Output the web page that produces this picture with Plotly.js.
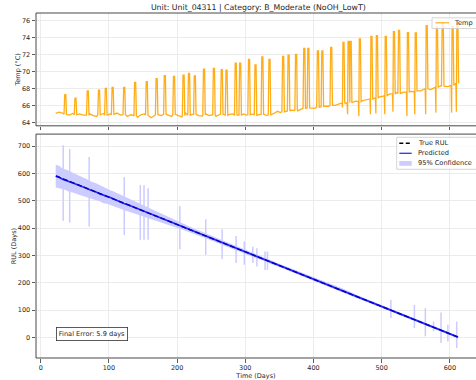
<!DOCTYPE html>
<html><head><meta charset="utf-8">
<script src="https://cdn.plot.ly/plotly-3.0.1.min.js"></script>
<style>html,body{margin:0;padding:0;background:#fff}#chart{width:476px;height:380px}</style>
</head><body><div id="chart"></div>
<script>
// ---------- data ----------
const chartTitle = "Unit: Unit_04311 | Category: B_Moderate (NoOH_LowT)";
const finalErrorText = "Final Error: 5.9 days";

// Temperature baseline, sampled every 5 days starting day 22
const tempStartDay = 22, tempStepDays = 5;
const tempBase = [65.1,65.25,65.15,64.95,64.9,65.1,64.85,65.05,64.9,64.8,
65.05,64.85,64.75,65.0,65.1,64.8,65.05,64.85,65.15,64.9,
65.0,64.75,64.95,64.7,64.65,64.95,65.05,64.8,64.6,64.85,
65.0,64.85,65.1,64.9,64.75,65.05,64.85,64.7,65.2,64.85,
65.0,65.1,64.85,64.8,65.05,64.85,65.0,64.75,64.95,65.1,
64.85,65.0,65.05,64.85,64.8,65.05,64.9,64.85,65.05,64.85,
65.0,65.05,64.85,65.0,65.1,65.35,65.2,65.4,65.35,65.5,
65.45,65.4,65.6,65.7,65.8,65.75,65.7,65.9,65.85,65.95,
65.95,66.1,66.05,66.25,66.35,66.25,66.45,66.4,66.55,66.4,
66.6,66.7,66.8,66.75,67.0,67.05,67.15,67.2,67.4,67.35,
67.55,67.45,67.6,67.55,67.7,67.65,67.8,67.75,67.95,68.0,
67.9,68.15,68.2,68.35,68.3,68.25,68.45,68.55,68.7];

// Temperature spikes: day, peak, local baseline, low dip next to the spike (null = none)
const spikeDay  = [36,51,69,85.5,95.5,105.5,122.5,138.5,155.5,170,182,195.5,209.5,217.5,226,239.5,254,265.5,272.5,286,292.5,305.5,315,325,335.5,355.5,363.5,374.5,386.5,392.5,406.5,413,426,444,451.5,454.5,468,485,493,506,518,525.5,538.5,550,566,581,589.5,604,611];
const spikePeak = [67.3,66.9,67.75,67.85,68.05,68.15,68.15,68.75,68.85,69.2,69.55,69.45,69.6,69.8,69.5,70.3,70.4,70.25,70.2,71.0,71.0,71.45,70.8,71.75,71.45,71.8,71.95,72.05,72.75,72.75,72.45,72.45,72.85,73.45,73.55,73.55,73.85,74.15,74.25,74.15,74.7,74.85,74.6,74.55,75.4,75.3,75.7,75.3,75.7];
const spikeFoot = [65.0,64.95,64.9,64.95,64.9,65.0,64.95,64.85,64.9,64.95,65.0,65.0,64.85,64.9,65.0,64.95,64.95,65.0,64.9,64.9,64.9,64.95,64.9,65.0,64.95,65.3,65.4,65.5,65.7,65.75,65.85,65.9,66.05,66.35,66.4,66.4,66.5,66.8,66.95,67.2,67.4,67.45,67.6,67.75,68.0,68.2,68.3,68.4,68.65];
const spikeDip  = [null,null,null,null,null,null,null,null,null,null,null,null,null,null,null,null,null,null,null,null,null,null,null,null,null,null,null,null,null,null,null,null,null,65.8,65.0,null,64.8,65.0,65.1,65.0,65.3,null,64.8,65.0,65.0,65.2,null,65.2,65.3];

// RUL panel
const trueDay = [22.5, 613];
const trueRul = [590.5, 0];
const rulStartDay = 22, rulStepDays = 5;
const predicted = [590,586,579,575,571,565,560,556,551,546,
540,536,531,525,521,516,512,506,500,496,
490,486,481,476,472,466,460,456,451,446,
442,436,431,426,421,415,411,406,401,396,
391,386,381,376,371,366,361,356,351,346,
341,336,331,326,321,316,311,306,301,296,
291,286,281,276,271,266,261,256,251,246,
241,236,231,226,221,216,211,206,201,196,
191,186,181,176,171,166,161,156,151,146,
141,136,131,126,121,116,111,106,101,96,
91,86,81,76,71,66,61,56,51,46,
41,36,31,26,21,16,11,6,1];
const ciHigh = [632,628,618,614,610,602,597,592,586,580,
572,568,563,557,550,544,538,534,528,522,
516,511,505,499,494,488,482,476,470,464,
459,453,447,442,436,430,424,418,413,407,
402,396,391,386,381,375,369,364,359,354,
349,343,338,333,328,323,318,313,308,303,
298,293,288,283,278,272,267,262,257,252,
249,244,239,234,228,222,217,212,207,202,
197,192,188,184,180,175,169,163,157,151,
146,141,136,131,126,121,116,111,106,100,
95,90,85,80,75,70,65,60,55,50,
45,40,35,30,25,20,15,10,5];
const ciLow = [548,546,543,538,532,530,524,521,517,513,
510,504,500,497,491,489,484,479,475,471,
467,462,458,454,449,445,441,437,433,429,
424,420,416,411,407,403,399,395,390,386,
381,377,372,367,362,358,353,348,344,338,
334,329,324,319,314,309,304,299,294,289,
285,279,274,269,264,260,255,250,245,240,
234,228,223,219,214,210,205,200,195,190,
185,180,174,168,163,158,153,149,145,141,
136,131,126,121,116,111,106,101,96,92,
87,82,77,72,67,62,57,52,47,42,
37,32,27,22,17,12,7,2,-3];
// isolated single-day widenings of the confidence band
const ciSpikeDay  = [33,42.5,71,122.5,146,151.5,157.5,204,242,266,286.5,298.5,311,317,329,332.5,513.5,548,564,576,587,597,610];
const ciSpikeHigh = [703,689,660,587,557,557,546,481,432,396,371,351,332,326,314,314,138,119,107,58,91,46,58];
const ciSpikeLow  = [427,420,406,375,357,357,357,323,302,286,272,266,272,259,247,247,71,34,4,22,-20,-15,-39];

const xTicks = [0,100,200,300,400,500,600];
const tempTicks = [64,66,68,70,72,74,76];
const rulTicks = [0,100,200,300,400,500,600,700];

// ---------- build traces ----------
const baseDays = tempBase.map((_, i) => tempStartDay + i * tempStepDays);
let pts = [];
baseDays.forEach((d, i) => {
  const inSpike = spikeDay.some(s => d >= s - 2.3 && d <= s + 2.0);
  if (!inSpike) pts.push([d, tempBase[i]]);
});
spikeDay.forEach((s, k) => {
  if (spikeDip[k] !== null) {
    pts.push([s - 2.2, spikeFoot[k]], [s - 1.5, spikeDip[k]], [s - 0.8, spikePeak[k]], [s + 0.8, spikePeak[k]], [s + 1.8, spikeFoot[k]]);
  } else {
    pts.push([s - 1.8, spikeFoot[k]], [s - 0.8, spikePeak[k]], [s + 0.8, spikePeak[k]], [s + 1.8, spikeFoot[k]]);
  }
});
pts.sort((a, b) => a[0] - b[0]);
const tempX = pts.map(p => p[0]), tempY = pts.map(p => p[1]);

const rulDays = predicted.map((_, i) => rulStartDay + i * rulStepDays);
const spX = [], spY = [];
ciSpikeDay.forEach((d, k) => { spX.push(d, d, null); spY.push(ciSpikeLow[k], ciSpikeHigh[k], null); });

const bandColor = 'rgb(204,204,255)';
const orange = 'rgba(255,165,0,0.9)';
const traces = [
  {x: tempX, y: tempY, xaxis: 'x', yaxis: 'y', type: 'scatter', mode: 'lines', name: 'Temp',
   line: {color: orange, width: 1.3}, showlegend: false},
  {x: rulDays, y: ciLow, xaxis: 'x2', yaxis: 'y2', type: 'scatter', mode: 'lines', line: {width: 0}, showlegend: false, hoverinfo: 'skip'},
  {x: rulDays, y: ciHigh, xaxis: 'x2', yaxis: 'y2', type: 'scatter', mode: 'lines', line: {width: 0}, fill: 'tonexty', fillcolor: bandColor, name: '95% Confidence', showlegend: false},
  {x: spX, y: spY, xaxis: 'x2', yaxis: 'y2', type: 'scatter', mode: 'lines', line: {color: bandColor, width: 1.5}, showlegend: false, hoverinfo: 'skip'},
  {x: trueDay, y: trueRul, xaxis: 'x2', yaxis: 'y2', type: 'scatter', mode: 'lines', name: 'True RUL', line: {color: '#000', width: 1.4, dash: '5px,2.5px'}, showlegend: false},
  {x: rulDays, y: predicted, xaxis: 'x2', yaxis: 'y2', type: 'scatter', mode: 'lines', name: 'Predicted', line: {color: 'rgba(0,0,255,0.82)', width: 1.7}, showlegend: false}
];

// ---------- layout ----------
const ML = 36, MR = 0, MT = 13, MB = 22, W = 476, H = 380;
const PW = W - ML - MR, PH = H - MT - MB;
const px = v => (v - ML) / PW;           // pixel -> paper x
const py = v => (H - MB - v) / PH;       // pixel -> paper y
const font = {family: 'DejaVu Sans, sans-serif', size: 6.5, color: '#262626'};
const gridC = '#e7e7e7';
const axCommon = {showgrid: true, gridcolor: gridC, gridwidth: 0.8, zeroline: false, showline: false,
  ticks: 'outside', ticklen: 3.5, tickwidth: 0.8, tickcolor: '#333', tickfont: font, tickmode: 'array'};

const shapes = [
  {type: 'rect', xref: 'paper', yref: 'paper', x0: 0, x1: px(481), y0: 0.673, y1: 1, line: {color: '#333', width: 0.9}},
  {type: 'rect', xref: 'paper', yref: 'paper', x0: 0, x1: px(481), y0: 0, y1: 0.649, line: {color: '#333', width: 0.9}},
  {type: 'rect', xref: 'paper', yref: 'paper', x0: px(432), x1: px(482), y0: py(28.5), y1: py(17.8), fillcolor: 'rgba(255,255,255,0.8)', line: {color: '#cccccc', width: 0.8}},
  {type: 'line', xref: 'paper', yref: 'paper', x0: px(435.5), x1: px(449), y0: py(22.8), y1: py(22.8), line: {color: orange, width: 1.2}},
  {type: 'rect', xref: 'paper', yref: 'paper', x0: px(396.7), x1: px(482), y0: py(169.3), y1: py(137.3), fillcolor: 'rgba(255,255,255,0.8)', line: {color: '#cccccc', width: 0.8}},
  {type: 'line', xref: 'paper', yref: 'paper', x0: px(399.3), x1: px(411.7), y0: py(143.3), y1: py(143.3), line: {color: '#000', width: 1.6, dash: '4px,2.5px'}},
  {type: 'line', xref: 'paper', yref: 'paper', x0: px(399.3), x1: px(411.7), y0: py(153.3), y1: py(153.3), line: {color: 'rgba(0,0,255,0.82)', width: 1.3}},
  {type: 'rect', xref: 'paper', yref: 'paper', x0: px(399.3), x1: px(411.7), y0: py(165.8), y1: py(161), fillcolor: bandColor, line: {width: 0}}
];

const legFont = {family: 'DejaVu Sans, sans-serif', size: 6.6, color: '#262626'};
const annotations = [
  {xref: 'paper', yref: 'paper', x: px(452.5), y: py(22.8), text: 'Temp', showarrow: false, xanchor: 'left', yanchor: 'middle', font: legFont, borderpad: 0},
  {xref: 'paper', yref: 'paper', x: px(416.5), y: py(143.3), text: 'True RUL', showarrow: false, xanchor: 'left', yanchor: 'middle', font: legFont, borderpad: 0},
  {xref: 'paper', yref: 'paper', x: px(416.5), y: py(153.3), text: 'Predicted', showarrow: false, xanchor: 'left', yanchor: 'middle', font: legFont, borderpad: 0},
  {xref: 'paper', yref: 'paper', x: px(416.5), y: py(163.3), text: '95% Confidence', showarrow: false, xanchor: 'left', yanchor: 'middle', font: legFont, borderpad: 0},
  {xref: 'paper', yref: 'paper', x: px(56), y: py(334.2), text: finalErrorText, showarrow: false, xanchor: 'left', yanchor: 'middle',
   font: legFont, bgcolor: '#fff', bordercolor: '#333', borderwidth: 0.8, borderpad: 2}
];

const layout = {
  width: W, height: H, margin: {l: ML, r: MR, t: MT, b: MB}, paper_bgcolor: '#fff', plot_bgcolor: '#fff',
  font: font, showlegend: false,
  title: {text: chartTitle, font: {family: 'DejaVu Sans, sans-serif', size: 7.8, color: '#262626'},
          x: px(258.3), xref: 'paper', xanchor: 'center', y: 1 - 6.9 / H, yanchor: 'middle'},
  xaxis: Object.assign({}, axCommon, {domain: [0, 1], anchor: 'y', range: [-6.9, 638.3], tickvals: xTicks, showticklabels: false}),
  yaxis: Object.assign({}, axCommon, {domain: [0.673, 1], anchor: 'x', range: [63.65, 76.9], tickvals: tempTicks, automargin: true,
          title: {text: 'Temp (°C)', font: font, standoff: 0}}),
  xaxis2: Object.assign({}, axCommon, {domain: [0, 1], anchor: 'y2', range: [-6.9, 638.3], tickvals: xTicks,
          title: {text: 'Time (Days)', font: font, standoff: 3}}),
  yaxis2: Object.assign({}, axCommon, {domain: [0, 0.649], anchor: 'x2', range: [-75.3, 743.8], tickvals: rulTicks, automargin: true,
          title: {text: 'RUL (Days)', font: font, standoff: 0}}),
  shapes: shapes, annotations: annotations
};

Plotly.newPlot('chart', traces, layout, {displayModeBar: false, staticPlot: true});
</script></body></html>
